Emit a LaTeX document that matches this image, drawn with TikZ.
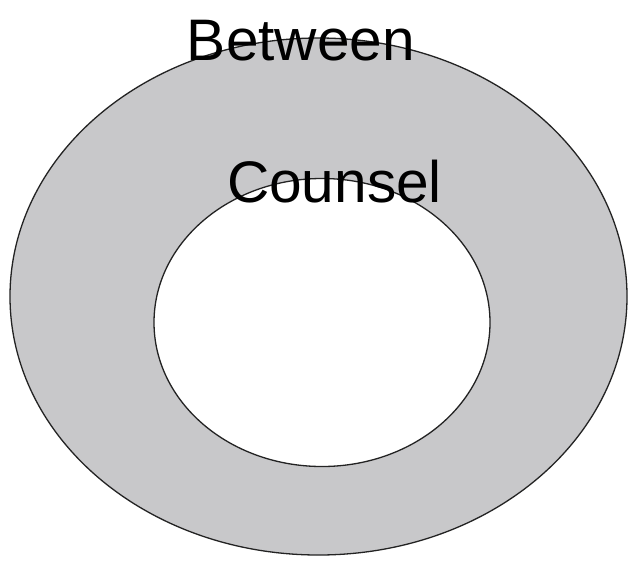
\documentclass[tikz,border=0pt]{standalone}
\usepackage{fontspec}
\setmainfont{Liberation Sans}
\definecolor{ringgray}{RGB}{200,200,202}
\definecolor{edge}{RGB}{35,35,35}
\begin{document}
\begin{tikzpicture}[x=1pt,y=-1pt,
  ring/.style={draw=edge,line width=1.3pt},
  lbl/.style={font=\fontsize{58.6}{60}\selectfont,anchor=base,inner sep=0pt,text=black}]
\useasboundingbox (0,0) rectangle (628,560);
\fill[white] (0,0) rectangle (628,560);
\filldraw[ring,fill=ringgray] (318.5,296.5) ellipse [x radius=308.5,y radius=258.5];
\filldraw[ring,fill=white] (322,322.5) ellipse [x radius=168,y radius=144];
\node[lbl] (between) at (301,60) {Between};
\node[lbl] (counsel) at (334.5,202) {Counsel};
\end{tikzpicture}
\end{document}
